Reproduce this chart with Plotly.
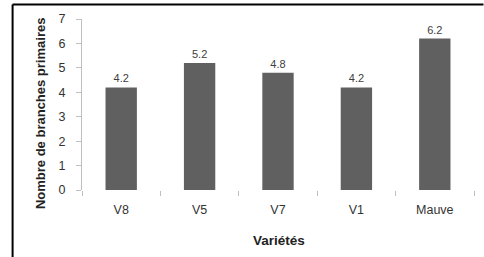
import plotly.graph_objects as go

categories = ["V8", "V5", "V7", "V1", "Mauve"]
values = [4.2, 5.2, 4.8, 4.2, 6.2]
labels = ["4.2", "5.2", "4.8", "4.2", "6.2"]
y_ticks = [0, 1, 2, 3, 4, 5, 6, 7]

W, H = 484, 257
L, R, T, B = 82, 9.5, 19, 67
pw = W - L - R
ph = H - T - B

FONT = "Liberation Sans"

fig = go.Figure(go.Bar(
    x=categories, y=values, text=labels, textposition="outside",
    textfont=dict(size=11, color="#404040", family=FONT),
    marker=dict(color="#606060", line=dict(width=0)),
    width=0.4, cliponaxis=False,
))

def px(x):
    return (x - L) / pw

def py(y):
    return 1 - (y - T) / ph

fig.update_layout(
    width=W, height=H,
    margin=dict(l=L, r=R, t=T, b=B, pad=0),
    plot_bgcolor="white", paper_bgcolor="white",
    showlegend=False,
    font=dict(family=FONT, color="#333333"),
    xaxis=dict(
        automargin=False,
        showline=False, showgrid=False, zeroline=False,
        ticks="outside", tickson="boundaries", ticklen=5, tickcolor="#bfbfbf",
        ticklabelstandoff=10,
        tickfont=dict(size=12.5, color="#333333"),
    ),
    yaxis=dict(
        automargin=False,
        range=[0, 7], tickvals=y_ticks, showgrid=False, zeroline=False,
        showline=True, linecolor="#bfbfbf", linewidth=1,
        ticks="outside", ticklen=5, tickcolor="#bfbfbf",
        ticklabelstandoff=8,
        tickfont=dict(size=12.5, color="#333333"),
    ),
    annotations=[
        dict(text="<b>Variétés</b>", xref="paper", yref="paper",
             x=px(279), y=py(240), xanchor="center", yanchor="middle",
             showarrow=False, font=dict(size=13.5, color="#222222", family=FONT)),
        dict(text="<b>Nombre de branches primaires</b>", xref="paper", yref="paper",
             x=px(40), y=py(114), xanchor="center", yanchor="middle", textangle=-90,
             showarrow=False, font=dict(size=13, color="#222222", family=FONT)),
    ],
    shapes=[
        dict(type="line", xref="paper", yref="paper", x0=px(12.5), x1=px(484), y0=py(4.5), y1=py(4.5),
             line=dict(color="black", width=2)),
        dict(type="line", xref="paper", yref="paper", x0=px(12.5), x1=px(12.5), y0=py(4.5), y1=py(257),
             line=dict(color="black", width=2)),
    ],
)

fig.write_html(
    "out.html",
    config={"displayModeBar": False},
    post_script="document.body.style.margin='0';document.body.style.overflow='hidden';",
)
